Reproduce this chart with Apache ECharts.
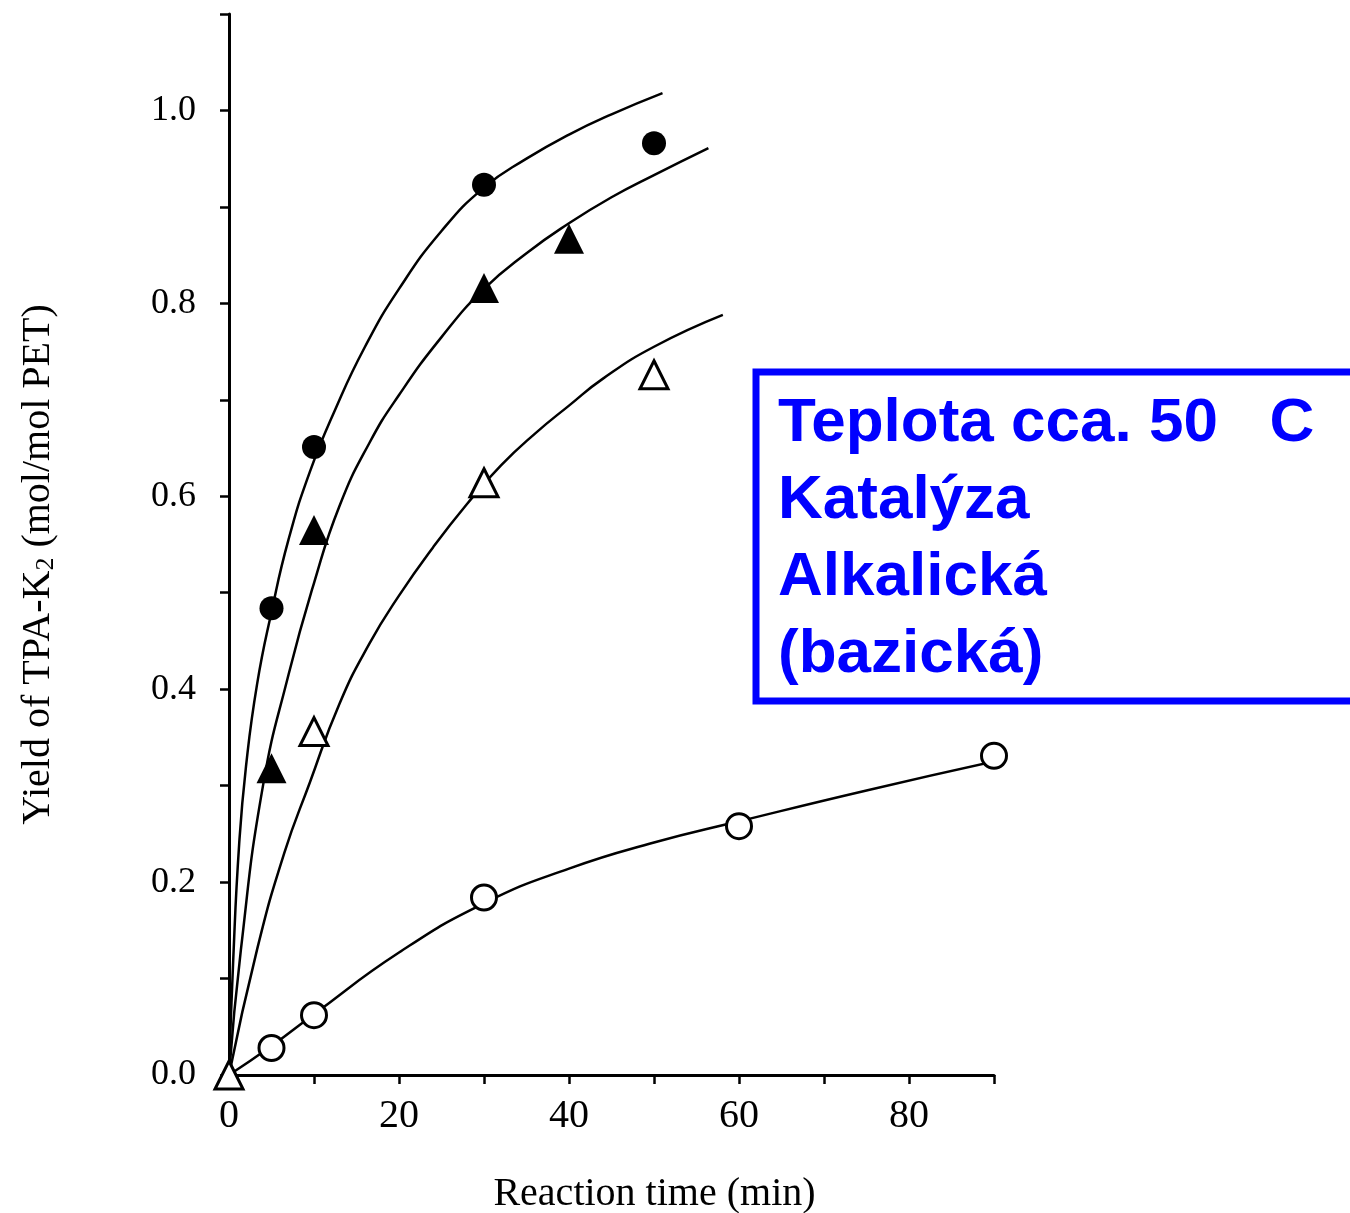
<!DOCTYPE html>
<html>
<head>
<meta charset="utf-8">
<script src="https://cdn.jsdelivr.net/npm/echarts@6/dist/echarts.min.js"></script>
<style>
  html, body { margin: 0; padding: 0; background: #fff; }
  #chart { width: 1350px; height: 1213px; }
</style>
</head>
<body>
<div id="chart"></div>
<script>
  // measured points [time (min), yield]
  const filledCircles = [[5, 0.484], [10, 0.651], [30, 0.923], [50, 0.966]]
  const filledTriangles = [[5, 0.318], [10, 0.565], [30, 0.816], [40, 0.867]]
  const openTriangles = [[0, 0], [10, 0.356], [30, 0.614], [50, 0.726]]
  const openCircles = [[5, 0.028], [10, 0.062], [30, 0.184], [60, 0.258], [90, 0.331]]

  // fitted curves
  const curveA = [[0, 0], [0.5, 0.12], [1.2, 0.24], [2, 0.32], [3.3, 0.405], [5, 0.48], [7, 0.555],
    [9.5, 0.625], [12.5, 0.69], [16, 0.755], [20, 0.815], [25, 0.875], [30, 0.92], [35, 0.95],
    [40, 0.975], [45, 0.996], [51, 1.018]]
  const curveB = [[0, 0], [1.4, 0.13], [4, 0.3], [7, 0.415], [10, 0.51], [13, 0.59], [16.5, 0.655],
    [20, 0.705], [25, 0.765], [30, 0.815], [35, 0.852], [40, 0.883], [45, 0.91], [50, 0.933], [56.4, 0.961]]
  const curveC = [[0, 0], [3.3, 0.13], [6.5, 0.23], [9.5, 0.303], [13, 0.385], [16.5, 0.447], [20, 0.497],
    [24, 0.547], [28, 0.592], [32, 0.632], [36, 0.665], [40, 0.694], [44, 0.722], [50, 0.755], [58.1, 0.788]]
  const curveD = [[0, 0], [5, 0.03], [10, 0.063], [20, 0.127], [30, 0.178], [40, 0.214], [50, 0.241],
    [60, 0.263], [75, 0.295], [90.5, 0.326]]

  const xTickLabels = [0, 20, 40, 60, 80]
  const yTickLabels = ['0.0', '0.2', '0.4', '0.6', '0.8', '1.0']

  const noteLines = ['Teplota cca. 50   C', 'Katalýza', 'Alkalická', '(bazická)']

  const chart = echarts.init(document.getElementById('chart'))

  const serif = 'Liberation Serif'
  const ink = '#000'

  function curve(data) {
    return {
      type: 'line', data: data, smooth: 0.5, symbol: 'none',
      lineStyle: {color: ink, width: 2.5}, clip: false, z: 2
    }
  }
  function marks(data, symbol, size, filled) {
    return {
      type: 'scatter', data: data, symbol: symbol, symbolSize: size, clip: false, z: 3,
      itemStyle: filled
        ? {color: ink, opacity: 1}
        : {color: '#fff', borderColor: ink, borderWidth: 3, opacity: 1}
    }
  }

  const option = {
    backgroundColor: '#fff',
    animation: false,
    grid: {left: 229, right: 356, top: 14, bottom: 138, outerBoundsMode: 'none'},
    xAxis: {
      type: 'value', min: 0, max: 90, interval: 10,
      name: 'Reaction time (min)', nameLocation: 'middle', nameGap: 99,
      nameTextStyle: {fontFamily: serif, fontSize: 40, color: ink, padding: [0, 0, 0, 86]},
      axisLine: {lineStyle: {color: ink, width: 3}},
      axisTick: {length: 9, lineStyle: {color: ink, width: 2.5}},
      splitLine: {show: false},
      axisLabel: {
        fontFamily: serif, fontSize: 40, color: ink, margin: 21,
        formatter: v => xTickLabels.indexOf(v) >= 0 ? String(v) : ''
      }
    },
    yAxis: {
      type: 'value', min: 0, max: 1.1, interval: 0.1,
      name: 'Yield of TPA-K{sub|2} (mol/mol PET)', nameLocation: 'middle', nameGap: 170,
      nameTextStyle: {
        fontFamily: serif, fontSize: 40, color: ink, padding: [0, 40, 0, 0],
        rich: {sub: {fontFamily: serif, fontSize: 26, color: ink, padding: [16, 0, 0, 0]}}
      },
      axisLine: {lineStyle: {color: ink, width: 3}},
      axisTick: {length: 9, lineStyle: {color: ink, width: 2.5}},
      splitLine: {show: false},
      axisLabel: {
        fontFamily: serif, fontSize: 36, color: ink, margin: 33,
        formatter: v => {
          const s = v.toFixed(1)
          return yTickLabels.indexOf(s) >= 0 ? s : ''
        }
      }
    },
    graphic: [
      {
        type: 'rect', shape: {x: 756, y: 372, width: 700, height: 329},
        style: {fill: '#fff', stroke: '#0000ff', lineWidth: 7}, z: 10
      },
      {
        type: 'text', x: 778, y: 385, z: 11,
        style: {
          text: noteLines.join('\n'), fill: '#0000ff',
          font: 'bold 62px "Liberation Sans", Arial, sans-serif', lineHeight: 77
        }
      }
    ],
    series: [
      curve(curveA), curve(curveB), curve(curveC), curve(curveD),
      marks(filledCircles, 'circle', 24, true),
      marks(filledTriangles, 'triangle', 30, true),
      marks(openCircles, 'circle', 25, false),
      marks(openTriangles, 'triangle', 28, false)
    ]
  }

  chart.setOption(option)
</script>
</body>
</html>
